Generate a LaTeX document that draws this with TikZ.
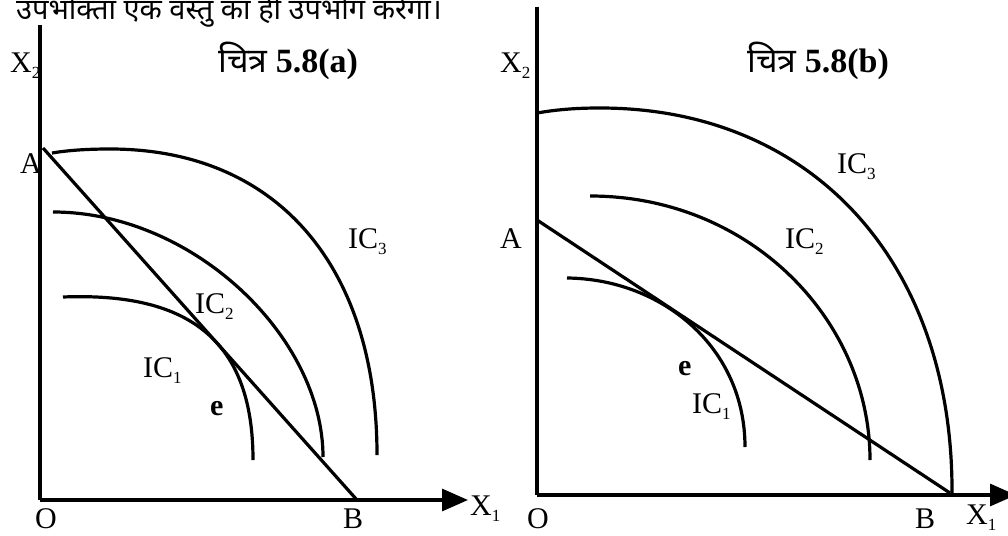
\documentclass[tikz,border=0pt]{standalone}
\usepackage{fontspec}
\setmainfont{Liberation Serif}
\newfontfamily\hindi[Script=Devanagari]{Noto Sans}
\usetikzlibrary{arrows.meta}
\newcommand\lsub[1]{\raisebox{-6pt}{\fontsize{17}{17}\selectfont #1}}
\tikzset{
  ax/.style={line width=3.2pt},
  axarrow/.style={line width=3.2pt,-{Triangle[length=26pt,width=22pt]}},
  curve/.style={line width=3.2pt},
  budget/.style={line width=3.2pt},
  lbl/.style={anchor=base west,inner sep=0pt,font=\fontsize{30}{30}\selectfont},
  ttl/.style={anchor=base west,inner sep=0pt,font=\fontsize{34}{34}\selectfont\bfseries},
}
\begin{document}
\begin{tikzpicture}[x=1pt,y=-1pt]
\useasboundingbox (0,0) rectangle (1008,535);
% top sentence
\node[anchor=base east,inner sep=0pt,font=\fontsize{29}{29}\selectfont\hindi] (sent) at (442,20) {उपभोक्ता एक वस्तु का ही उपभोग करेगा।};
% ---------- left panel ----------
\coordinate (Ltop) at (40,25);
\coordinate (LO) at (40,500);
\coordinate (Lend) at (468,500);
\coordinate (LA) at (43,148);
\coordinate (LB) at (357,500);
\draw[ax] (Ltop) -- (LO);
\draw[axarrow] (LO) -- (Lend);
\draw[budget] (LA) -- (LB);
\draw[curve] (52,153) .. controls (70,150) and (90,149) .. (110,149) .. controls (276,149) and (377,265) .. (377,455);
\draw[curve] (53,212) .. controls (193,212) and (323,337) .. (323,457);
\draw[curve] (63,297) .. controls (191,292) and (253,342) .. (253,460);
\node[lbl] (LX2) at (10,72) {X\lsub{2}};
\node[ttl] (Ltitle) at (218,72) {{\hindi चित्र} 5.8(a)};
\node[lbl] (LAl) at (20,173) {A};
\node[lbl] (LOl) at (35,528) {O};
\node[lbl] (LBl) at (343,528) {B};
\node[lbl] (LX1) at (470,515) {X\lsub{1}};
\node[lbl] (LIC3) at (348,248) {IC\lsub{3}};
\node[lbl] (LIC2) at (195,313) {IC\lsub{2}};
\node[lbl] (LIC1) at (143,377) {IC\lsub{1}};
\node[lbl,font=\fontsize{30}{30}\selectfont\bfseries] (Le) at (210,415) {e};
% ---------- right panel ----------
\coordinate (Rtop) at (537,7);
\coordinate (RO) at (537,495);
\coordinate (Rend) at (1016,495);
\coordinate (RA) at (537,220);
\coordinate (RB) at (950,493);
\draw[ax] (Rtop) -- (RO);
\draw[axarrow] (RO) -- (Rend);
\draw[budget] (RA) -- (RB);
\draw[curve] (537,113) .. controls (560,109) and (580,108) .. (600,108) .. controls (812,108) and (953,262) .. (952,493);
\draw[curve] (590,196) .. controls (750,196) and (870,320) .. (870,460);
\draw[curve] (567,278) .. controls (662,279) and (745,347) .. (745,447);
\node[lbl] (RX2) at (500,72) {X\lsub{2}};
\node[ttl] (Rtitle) at (747,72) {{\hindi चित्र} 5.8(b)};
\node[lbl] (RAl) at (500,248) {A};
\node[lbl] (ROl) at (527,528) {O};
\node[lbl] (RBl) at (915,528) {B};
\node[lbl] (RX1) at (966,524) {X\lsub{1}};
\node[lbl] (RIC3) at (837,173) {IC\lsub{3}};
\node[lbl] (RIC2) at (785,248) {IC\lsub{2}};
\node[lbl] (RIC1) at (692,413) {IC\lsub{1}};
\node[lbl,font=\fontsize{30}{30}\selectfont\bfseries] (Re) at (678,375) {e};
\end{tikzpicture}
\end{document}
